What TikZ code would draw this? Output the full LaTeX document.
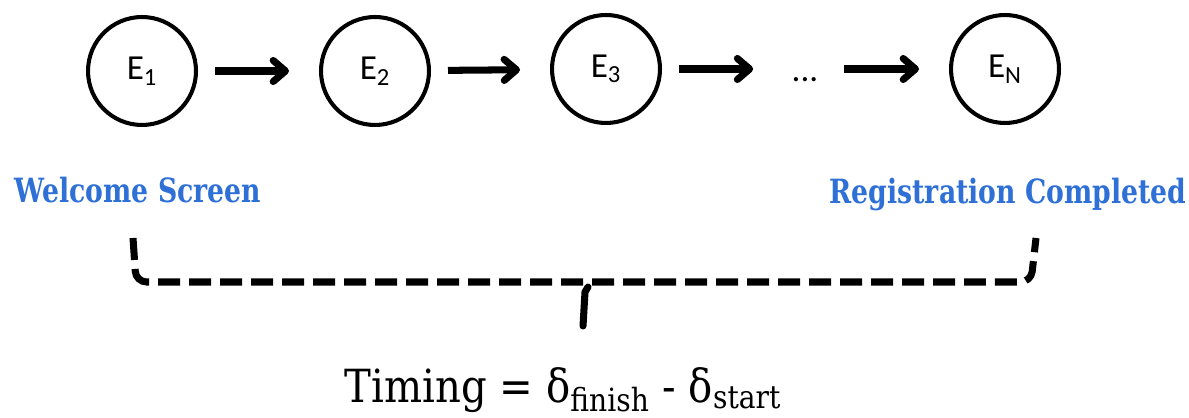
\documentclass[tikz,border=0pt]{standalone}
\usepackage{fontspec}
\setmainfont{DejaVu Serif}[FakeStretch=0.88]
\newfontfamily\slab{DejaVu Serif}[FakeStretch=0.8]
\newfontfamily\calibri{Carlito}
\usetikzlibrary{arrows.meta,positioning}
\definecolor{bluEtichetta}{RGB}{46,112,214}

\begin{document}
\begin{tikzpicture}[
			x=0.02cm, y=-0.02cm,  %% 1 unita' = 1 px del riferimento
			stato/.style={circle, draw=black, line width=2.3pt,
				minimum size=2.16cm, inner sep=0pt,
				font=\calibri\fontsize{20}{24}\selectfont},
			puntini/.style={inner sep=0pt, minimum width=0.86cm,
				text height=14.8pt, text depth=0pt,
				font=\calibri\fontsize{20}{24}\selectfont},
			freccia/.style={-{Straight Barb[length=7pt,width=12pt,round]},
				line width=4pt, shorten <=0.34cm, shorten >=0.6cm},
			etichetta/.style={text=bluEtichetta, anchor=base,
				font=\slab\bfseries\fontsize{19}{23}\selectfont},
			parentesi/.style={line width=4pt, rounded corners=6pt,
				dash pattern=on 0.44cm off 0.18cm}]
			
			\useasboundingbox (0,0) rectangle (1189,418);
			
			%% --- catena degli eventi ---
			\node[stato] (e1) at (142,71) {E\textsubscript{1}};
			\node[stato] (e2) at (375,71) {E\textsubscript{2}};
			\node[stato] (e3) at (606,69) {E\textsubscript{3}};
			\node[puntini] (dots) at (805,69) {...};
			\node[stato] (eN) at (1005,69) {E\textsubscript{N}};
			
			\draw[freccia] (e1) -- (e2);
			\draw[freccia] (e2) -- (e3);
			\draw[freccia] (e3) -- (dots);
			\draw[freccia] (dots) -- (eN);
			
			%% --- etichette inizio / fine ---
			\node[etichetta] (inizio) at (138,203) {Welcome Screen};
			\node[etichetta] (fine) at (1008,204) {Registration Completed};
			
			%% --- parentesi tratteggiata + tacca centrale ---
			\draw[parentesi] (133,238) -- (136,282) -- (1031,282) -- (1036,238);
			\draw[line width=4pt, line cap=round] (588,287) -- (585,292) -- (583,326);
			
			%% --- formula ---
			\node[anchor=base, font=\fontsize{26}{30}\selectfont] (timing) at (563,402)
				{Timing = δ\textsubscript{finish} - δ\textsubscript{start}};
			
		\end{tikzpicture}
\end{document}
